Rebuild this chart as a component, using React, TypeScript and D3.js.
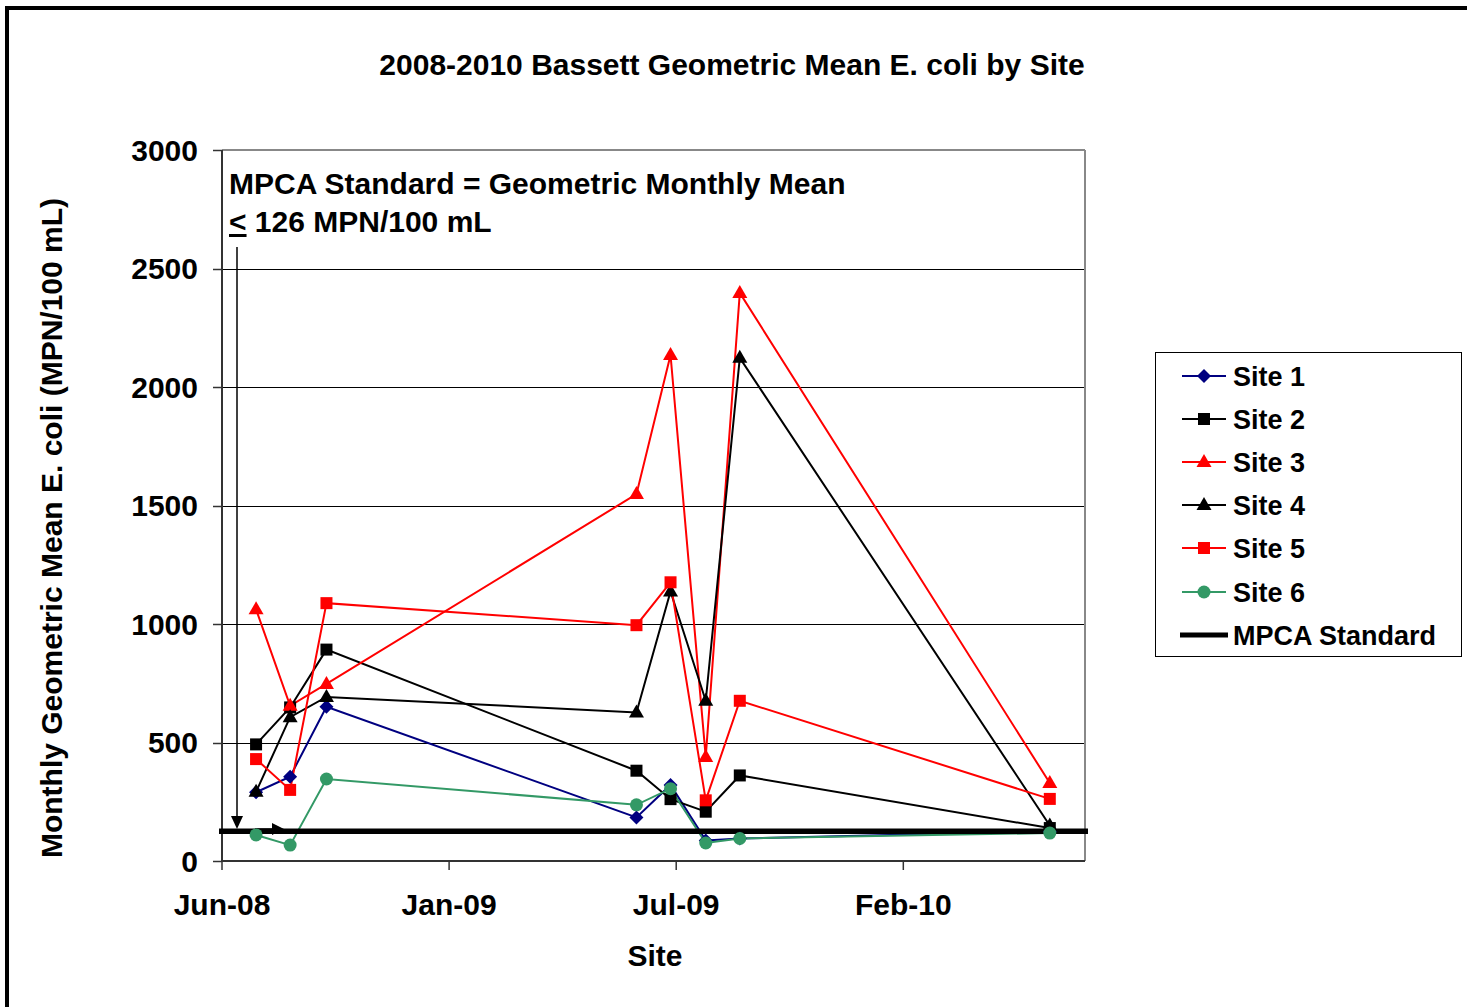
import React from "react";
import * as d3 from "d3";

const dates = ["2008-07-21", "2008-08-20", "2008-09-21", "2009-06-21", "2009-07-21", "2009-08-21", "2009-09-20", "2010-06-20"];
const site1 = [290, 356, 651, 184, 321, 87, 95, 125];
const site2 = [492, 648, 892, 381, 261, 208, 361, 139];
const site3 = [1062, 655, 747, 1548, 2135, 439, 2397, 329];
const site4 = [292, 607, 692, 627, 1137, 676, 2123, 150];
const site5 = [430, 300, 1088, 995, 1176, 256, 676, 262];
const site6 = [110, 67, 346, 237, 305, 76, 95, 118];
const standardValue = 126;
const yTicks = [0, 500, 1000, 1500, 2000, 2500, 3000];
const xTickDates = ["2008-06-21", "2009-01-07", "2009-07-26", "2010-02-11"];
const xDomain = ["2008-06-21", "2010-07-21"];

const seriesNames = ["Site 1", "Site 2", "Site 3", "Site 4", "Site 5", "Site 6"];
const seriesValues = [site1, site2, site3, site4, site5, site6];
const seriesColors = ["#000080", "#000000", "#FF0000", "#000000", "#FF0000", "#339966"];
const seriesMarkers = ["diamond", "square", "triangle", "triangle", "square", "circle"];

const FONT = "'Liberation Sans', Arial, sans-serif";

function Marker({ type, x, y, color }: { type: string; x: number; y: number; color: string }) {
  if (type === "square") return <rect x={x - 6} y={y - 6} width={12} height={12} fill={color} />;
  if (type === "diamond") return <path d={`M${x},${y - 7}L${x + 7},${y}L${x},${y + 7}L${x - 7},${y}Z`} fill={color} />;
  if (type === "triangle") return <path d={`M${x},${y - 8}L${x + 7.5},${y + 5}L${x - 7.5},${y + 5}Z`} fill={color} />;
  return <circle cx={x} cy={y} r={6.5} fill={color} />;
}

export default function App() {
  const left = 222, right = 1085, top = 150, bottom = 861;
  const parse = (s: string) => new Date(s + "T00:00:00Z");
  const x = d3.scaleUtc().domain(xDomain.map(parse)).range([left, right]);
  const y = d3.scaleLinear().domain([0, 3000]).range([bottom, top]);
  const fmt = d3.utcFormat("%b-%y");
  const line = d3.line<number>().x((_, i) => x(parse(dates[i]))).y((v) => y(v));
  const stdY = y(standardValue);
  const legendRows = [376, 419, 462, 505, 548, 592, 635];

  return (
    <svg width={1467} height={1007} style={{ position: "absolute", left: 0, top: 0, background: "#fff" }} fontFamily={FONT}>
      <rect x={0} y={0} width={1467} height={1007} fill="#fff" />
      <rect x={7} y={8} width={1480} height={1020} fill="none" stroke="#000" strokeWidth={4} />
      <text x={732} y={75} textAnchor="middle" fontSize={30} fontWeight="bold">2008-2010 Bassett Geometric Mean E. coli by Site</text>

      {yTicks.map((t) => (
        <g key={t}>
          {t > 0 && t < 3000 && <line x1={left} x2={right} y1={Math.round(y(t)) + 0.5} y2={Math.round(y(t)) + 0.5} stroke="#000" strokeWidth={1} />}
          <line x1={213} x2={left} y1={Math.round(y(t)) + 0.5} y2={Math.round(y(t)) + 0.5} stroke="#333" strokeWidth={1.5} />
          <text x={198} y={y(t)} dy="0.36em" textAnchor="end" fontSize={30} fontWeight="bold">{t}</text>
        </g>
      ))}
      <line x1={left} x2={right} y1={top} y2={top} stroke="#888" strokeWidth={2} />
      <line x1={right} x2={right} y1={top} y2={bottom} stroke="#888" strokeWidth={2} />
      <line x1={left} x2={left} y1={top} y2={bottom + 1} stroke="#333" strokeWidth={2} />
      <line x1={left} x2={right} y1={bottom} y2={bottom} stroke="#333" strokeWidth={2} />
      {xTickDates.map((d) => (
        <g key={d}>
          <line x1={x(parse(d))} x2={x(parse(d))} y1={bottom} y2={870} stroke="#333" strokeWidth={1.5} />
          <text x={x(parse(d))} y={915} textAnchor="middle" fontSize={30} fontWeight="bold">{fmt(parse(d))}</text>
        </g>
      ))}
      <text x={655} y={966} textAnchor="middle" fontSize={30} fontWeight="bold">Site</text>
      <text transform="translate(62,528) rotate(-90)" textAnchor="middle" fontSize={30} fontWeight="bold">Monthly Geometric Mean E. coli (MPN/100 mL)</text>

      <text x={229} y={194} fontSize={30} fontWeight="bold">MPCA Standard = Geometric Monthly Mean</text>
      <text x={229} y={232} fontSize={30} fontWeight="bold"><tspan textDecoration="underline">&lt;</tspan> 126 MPN/100 mL</text>

      {seriesValues.map((vals, i) => (
        <path key={i} d={line(vals) || ""} fill="none" stroke={seriesColors[i]} strokeWidth={2} />
      ))}
      <line x1={219} x2={1088} y1={stdY} y2={stdY} stroke="#000" strokeWidth={5.5} />

      <line x1={237} x2={237} y1={247} y2={818} stroke="#000" strokeWidth={1.5} />
      <path d="M231,816L243,816L237,829Z" fill="#000" />
      <line x1={255} x2={275} y1={829} y2={829} stroke="#000" strokeWidth={1.5} />
      <path d="M272,823L284,829L272,835Z" fill="#000" />

      {seriesValues.map((vals, i) =>
        vals.map((v, j) => <Marker key={`${i}-${j}`} type={seriesMarkers[i]} x={x(parse(dates[j]))} y={y(v)} color={seriesColors[i]} />)
      )}

      <rect x={1155.5} y={352.5} width={306} height={304} fill="#fff" stroke="#000" strokeWidth={1} />
      {seriesNames.map((name, i) => (
        <g key={name}>
          <line x1={1182} x2={1226} y1={legendRows[i]} y2={legendRows[i]} stroke={seriesColors[i]} strokeWidth={2} />
          <Marker type={seriesMarkers[i]} x={1204} y={legendRows[i]} color={seriesColors[i]} />
          <text x={1233} y={legendRows[i]} dy="0.36em" fontSize={27} fontWeight="bold">{name}</text>
        </g>
      ))}
      <line x1={1180} x2={1228} y1={legendRows[6]} y2={legendRows[6]} stroke="#000" strokeWidth={5} />
      <text x={1233} y={legendRows[6]} dy="0.36em" fontSize={27} fontWeight="bold">MPCA Standard</text>
    </svg>
  );
}
